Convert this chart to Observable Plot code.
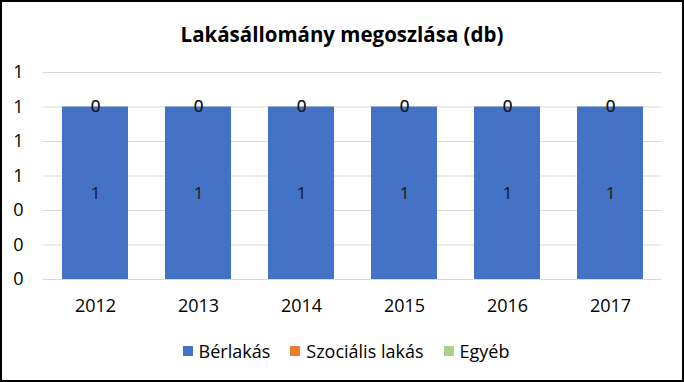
<!DOCTYPE html>
<html>
<head>
<meta charset="utf-8">
<script src="https://cdn.jsdelivr.net/npm/d3@7"></script>
<script src="https://cdn.jsdelivr.net/npm/@observablehq/plot@0.6"></script>
<style>
  html, body { margin: 0; padding: 0; background: #fff; }
  #wrap { position: relative; width: 684px; height: 382px; overflow: hidden; background: #fff; font-family: "Open Sans", Lato, sans-serif; }
  #frame { position: absolute; left: 0; top: 0; width: 684px; height: 382px; box-sizing: border-box; border: 2px solid #000; pointer-events: none; }
  #title { position: absolute; left: 0; width: 684px; top: 19px; text-align: center; font-weight: bold; font-size: 20.5px; color: #000; line-height: 30px; }
  #chart { position: absolute; left: 0; top: 56px; }
  #legend { position: absolute; left: 4px; width: 684px; top: 339px; display: flex; justify-content: center; align-items: center; font-size: 18px; color: #000; line-height: 24px; }
  .item { display: flex; align-items: center; margin: 0 10px; }
  .sw { width: 10px; height: 10px; margin-right: 6px; }
</style>
</head>
<body>
<div id="wrap">
  <div id="title">Lakásállomány megoszlása (db)</div>
  <div id="chart"></div>
  <div id="legend"></div>
  <div id="frame"></div>
</div>
<script>
const years = ["2012", "2013", "2014", "2015", "2016", "2017"];
const seriesNames = ["Bérlakás", "Szociális lakás", "Egyéb"];
const berlakas = [1, 1, 1, 1, 1, 1];
const szocialis = [0, 0, 0, 0, 0, 0];
const egyeb = [0, 0, 0, 0, 0, 0];
const colors = ["#4472C4", "#ED7D31", "#A9D18E"];
const yTicks = [0, 0.2, 0.4, 0.6, 0.8, 1.0, 1.2];

const seriesValues = [berlakas, szocialis, egyeb];
const data = [];
years.forEach((yr, i) => {
  seriesNames.forEach((s, j) => data.push({year: yr, series: s, value: seriesValues[j][i]}));
});

const fmt = d => d3.format(".0f")(d);
const chart = Plot.plot({
  width: 684,
  height: 272,
  marginLeft: 43,
  marginRight: 23,
  marginTop: 16,
  marginBottom: 49,
  style: {fontFamily: "'Open Sans', Lato, sans-serif", fontSize: "18px", color: "#000", background: "transparent"},
  x: {domain: years, paddingInner: 0.36, paddingOuter: 0.18, label: null},
  y: {domain: [0, 1.2], label: null},
  color: {domain: seriesNames, range: colors},
  marks: [
    Plot.ruleY(yTicks, {stroke: "#d9d9d9", strokeWidth: 1}),
    Plot.barY(data, Plot.stackY({x: "year", y: "value", fill: "series"})),
    Plot.text(data, Plot.stackY({x: "year", y: "value", text: d => String(d.value), fill: "#1a1a1a", fontSize: 17})),
    Plot.axisX({tickSize: 0, tickPadding: 20, fontSize: 18, label: null}),
    Plot.axisY({ticks: yTicks, tickFormat: fmt, tickSize: 0, tickPadding: 20, fontSize: 18, label: null})
  ]
});
document.getElementById("chart").appendChild(chart);

const legend = document.getElementById("legend");
seriesNames.forEach((s, j) => {
  const it = document.createElement("div");
  it.className = "item";
  const sw = document.createElement("div");
  sw.className = "sw";
  sw.style.background = colors[j];
  const t = document.createElement("span");
  t.textContent = s;
  it.appendChild(sw);
  it.appendChild(t);
  legend.appendChild(it);
});
</script>
</body>
</html>
